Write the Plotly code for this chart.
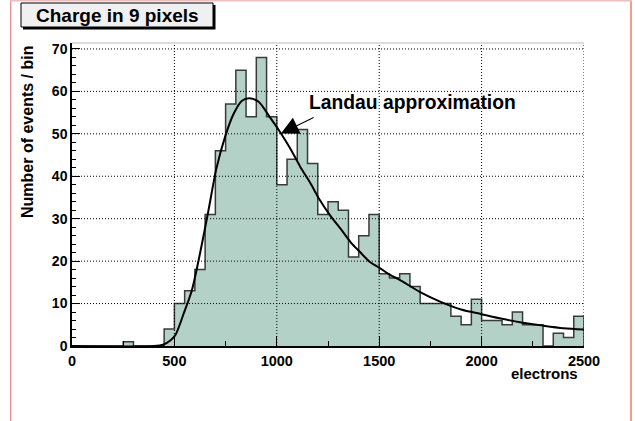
import plotly.graph_objects as go

# ---------------- data ----------------
bin_width = 50
bin_low = list(range(0, 2500, 50))
counts = [0, 0, 0, 0, 0, 1, 0, 0, 0, 4,
          10, 13, 18, 31, 46, 57, 65, 54, 68, 54,
          38, 44, 51, 43, 31, 34, 32, 21, 26, 31,
          17, 16, 17, 14, 10, 10, 10, 7, 5, 11,
          6, 6, 5, 8, 5, 5, 0, 3, 2, 7]

curve_x = [0, 400, 445, 480, 505, 545, 585, 625, 665, 705, 750, 790, 830, 865,
           910, 965, 1015, 1065, 1115, 1165, 1210, 1260, 1310, 1360, 1405, 1455,
           1505, 1555, 1600, 1700, 1800, 1900, 2000, 2100, 2200, 2300, 2400, 2500]
curve_y = [0, 0, 0.3, 1.3, 2.6, 7.6, 13.1, 21.8, 31.6, 41.8, 49.7, 54.8, 57.8, 58.4,
           57.6, 54.0, 50.5, 46.6, 42.2, 38.3, 34.4, 30.8, 27.7, 24.5, 22.2, 19.8,
           18.3, 16.7, 15.6, 12.7, 10.4, 8.6, 7.5, 6.4, 5.5, 4.8, 4.2, 3.9]

x_ticks = [0, 500, 1000, 1500, 2000, 2500]
y_ticks = [0, 10, 20, 30, 40, 50, 60, 70]

title_text = "Charge in 9 pixels"
x_title = "electrons"
y_title = "Number of events / bin"
fit_label = "Landau approximation"

# ---------------- layout helpers ----------------
W, H = 635, 421
ML, MR, MT, MB = 72, 51, 43, 75
PW, PH = W - ML - MR, H - MT - MB


def px_x(px):
    return (px - ML) / PW


def px_y(py):
    return (MT + PH - py) / PH


FONT = "Liberation Sans, Arial, Helvetica, sans-serif"

# step outline from bin edges
edges = bin_low + [bin_low[-1] + bin_width]
step_y = counts + [0]

fig = go.Figure()
fig.add_trace(go.Scatter(
    x=edges, y=step_y, mode="lines", line=dict(shape="hv", color="#3a3a3a", width=1.5),
    fill="tozeroy", fillcolor="rgb(179,209,199)", hoverinfo="skip", showlegend=False))
fig.add_trace(go.Scatter(
    x=curve_x, y=curve_y, mode="lines", line=dict(shape="spline", smoothing=0.8, color="black", width=2),
    hoverinfo="skip", showlegend=False))

shapes = []
# dotted grid drawn above the histogram
for xv in x_ticks[1:]:
    shapes.append(dict(type="line", xref="x", yref="paper", x0=xv, x1=xv, y0=0, y1=1,
                       line=dict(color="black", width=1, dash="1px,2px"), layer="above"))
for yv in y_ticks[1:]:
    shapes.append(dict(type="line", xref="paper", yref="y", x0=0, x1=1, y0=yv, y1=yv,
                       line=dict(color="black", width=1, dash="1px,2px"), layer="above"))
# top frame line (light grey)
shapes.append(dict(type="line", xref="paper", yref="paper", x0=0, x1=1, y0=1, y1=1,
                   line=dict(color="#dcdcdc", width=2), layer="above"))
# pink canvas border
pink = "rgb(232,140,140)"
shapes.append(dict(type="line", xref="paper", yref="paper", x0=px_x(10.7), x1=px_x(10.7),
                   y0=px_y(0), y1=px_y(430), line=dict(color=pink, width=1.3)))
shapes.append(dict(type="line", xref="paper", yref="paper", x0=px_x(631), x1=px_x(631),
                   y0=px_y(0), y1=px_y(430), line=dict(color="rgb(245,120,120)", width=1.5)))
shapes.append(dict(type="line", xref="paper", yref="paper", x0=px_x(10), x1=px_x(632),
                   y0=px_y(0.7), y1=px_y(0.7), line=dict(color="rgb(238,190,190)", width=1.5)))
# title box with shadow
shapes.append(dict(type="rect", xref="paper", yref="paper", x0=px_x(23), x1=px_x(215.5),
                   y0=px_y(29.5), y1=px_y(5), fillcolor="black", line=dict(width=0)))
shapes.append(dict(type="rect", xref="paper", yref="paper", x0=px_x(21), x1=px_x(213),
                   y0=px_y(27), y1=px_y(3), fillcolor="#f0f0f0", line=dict(color="black", width=1)))

annotations = [
    dict(text=title_text, xref="paper", yref="paper", x=px_x(117), y=px_y(15.5),
         xanchor="center", yanchor="middle", showarrow=False,
         font=dict(family=FONT, size=19, color="black", weight="bold")),
    dict(text=fit_label, xref="x", yref="y", x=1146, y=57.3, xanchor="left", yanchor="middle",
         showarrow=False, font=dict(family=FONT, size=19.3, color="black", weight="bold")),
    dict(text="", xref="x", yref="y", x=1020, y=50.1, axref="x", ayref="y", ax=1187, ay=54.0,
         showarrow=True, arrowhead=2, arrowsize=3.2, arrowwidth=1.1, arrowcolor="black"),
    dict(text=y_title, xref="paper", yref="paper", x=px_x(27), y=px_y(132), textangle=-90,
         xanchor="center", yanchor="middle", showarrow=False,
         font=dict(family=FONT, size=16, color="black", weight="bold")),
    dict(text=x_title, xref="paper", yref="paper", x=px_x(580), y=px_y(373.5),
         xanchor="right", yanchor="middle", showarrow=False,
         font=dict(family=FONT, size=15, color="black", weight="bold")),
]

fig.update_layout(
    width=W, height=H, margin=dict(l=ML, r=MR, t=MT, b=MB, pad=0),
    paper_bgcolor="white", plot_bgcolor="white",
    shapes=shapes, annotations=annotations, showlegend=False,
    xaxis=dict(range=[0, 2500], tickvals=x_ticks, ticktext=[str(v) for v in x_ticks],
               showgrid=False, zeroline=False, showline=True, linecolor="black", linewidth=1.5,
               ticks="inside", ticklen=10, tickcolor="black", tickwidth=1,
               ticklabelstandoff=1,
               minor=dict(dtick=250, ticks="inside", ticklen=5, tickcolor="black", showgrid=False),
               tickfont=dict(family=FONT, size=14.5, color="black", weight="bold"),
               layer="above traces", fixedrange=True),
    yaxis=dict(range=[0, 71.4], tickvals=y_ticks, ticktext=[str(v) for v in y_ticks],
               showgrid=False, zeroline=False, showline=True, linecolor="black", linewidth=1.5,
               ticks="inside", ticklen=8, tickcolor="black", tickwidth=1,
               minor=dict(dtick=2, ticks="inside", ticklen=4, tickcolor="black", showgrid=False),
               tickfont=dict(family=FONT, size=14, color="black", weight="bold"),
               layer="above traces", fixedrange=True),
)

fig.write_html("out.html", config=dict(displayModeBar=False),
               post_script="document.body.style.margin='0';document.body.style.overflow='hidden';")
